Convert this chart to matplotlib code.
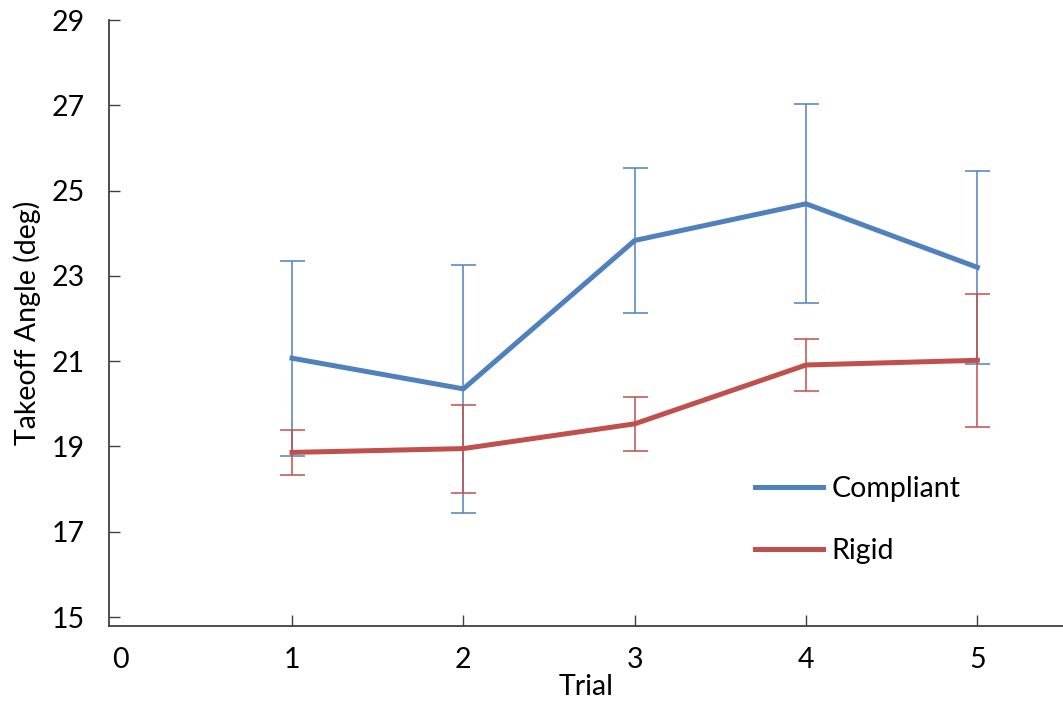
import numpy as np
import matplotlib.pyplot as plt

plt.rcParams['font.family'] = ['Lato', 'DejaVu Sans']

# Takeoff angle per trial, mean and error (deg)
trials = [1, 2, 3, 4, 5]
compliant_mean = [21.07, 20.35, 23.83, 24.69, 23.20]
compliant_err = [2.29, 2.91, 1.69, 2.33, 2.26]
rigid_mean = [18.86, 18.95, 19.53, 20.91, 21.02]
rigid_err = [0.53, 1.03, 0.64, 0.62, 1.56]

blue = '#4F81BD'
red = '#C0504D'
axis_col = '#404040'
fs = 20.5

fig = plt.figure(figsize=(10.63, 7.07), dpi=100)
ax = fig.add_axes([0.1023, 0.1146, 0.8977, 0.8571])

ax.errorbar(trials, compliant_mean, yerr=compliant_err, color=blue, lw=3.6,
            elinewidth=1.1, capsize=9, capthick=1.1, zorder=3)
ax.errorbar(trials, rigid_mean, yerr=rigid_err, color=red, lw=3.6,
            elinewidth=1.1, capsize=9, capthick=1.1, zorder=3)

ax.set_xlim(-0.07, 5.5)
ax.set_ylim(14.79, 29)
ax.set_xticks([0, 1, 2, 3, 4, 5])
ax.set_yticks(np.arange(15, 30, 2))

for s in ['top', 'right']:
    ax.spines[s].set_visible(False)
for s in ['left', 'bottom']:
    ax.spines[s].set_color(axis_col)
    ax.spines[s].set_linewidth(1.3)

ax.tick_params(axis='both', direction='in', length=8, width=1.0, color=axis_col,
               labelsize=fs, labelcolor='black')
ax.tick_params(axis='y', pad=17)
ax.tick_params(axis='x', pad=15)
# no tick mark at x = 0, only its label
ax.xaxis.get_major_ticks()[0].tick1line.set_visible(False)

ax.set_xlabel('Trial', fontsize=fs, labelpad=1)
ax.set_ylabel('Takeoff Angle (deg)', fontsize=fs, labelpad=8)

# legend shows plain lines without error bar glyphs
lines = [plt.Line2D([], [], color=blue, lw=3.6), plt.Line2D([], [], color=red, lw=3.6)]
ax.legend(lines, ['Compliant', 'Rigid'], loc='upper left',
          bbox_to_anchor=(755 / 1063, 1 - 476 / 707),
          bbox_transform=fig.transFigure, frameon=False, fontsize=fs,
          handlelength=2.4, handletextpad=0.3, labelspacing=1.25,
          borderpad=0, borderaxespad=0)

fig.savefig('out.png', dpi=100)
